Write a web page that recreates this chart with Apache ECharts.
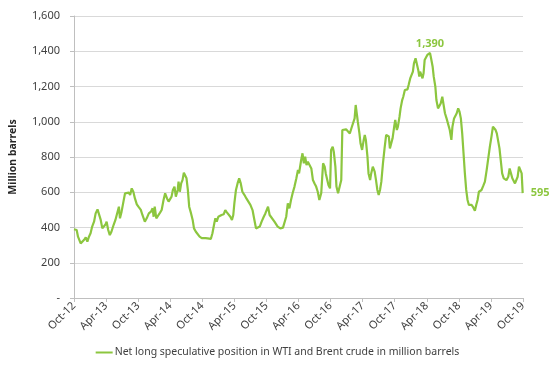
<!DOCTYPE html>
<html>
<head>
<meta charset="utf-8">
<script src="https://cdn.jsdelivr.net/npm/echarts@6/dist/echarts.min.js"></script>
<style>
html,body{margin:0;padding:0;background:#fff;}
#chart{width:555px;height:371px;}
</style>
</head>
<body>
<div id="chart"></div>
<script>
// Months elapsed since Oct-2012 (x position of each weekly reading)
var monthPos = [0,0.5,0.75,1.25,1.55,1.9,2.2,2.5,2.8,3.1,3.4,3.75,4.05,4.4,4.7,5.0,5.3,5.6,5.95,6.1,6.4,6.7,7.0,7.4,7.75,8.1,8.4,8.6,8.9,9.25,9.55,9.9,10.25,10.5,10.8,11.1,11.4,11.75,12.05,12.5,12.8,13.25,13.6,14.0,14.4,14.7,14.9,15.1,15.4,15.75,16.1,16.4,16.75,17.05,17.4,17.7,18.0,18.25,18.5,18.8,19.05,19.4,19.56,19.8,20.05,20.3,20.55,20.8,21.05,21.3,21.55,21.9,22.2,22.45,22.8,23.1,23.5,23.9,24.25,24.6,25.0,25.3,25.6,25.9,26.25,26.45,26.7,27.0,27.25,27.6,28.0,28.3,28.6,28.9,29.25,29.55,29.8,30.0,30.3,30.6,30.9,31.2,31.5,31.9,32.25,32.6,33.0,33.4,33.75,34.05,34.4,34.75,35.1,35.5,35.8,36.3,36.6,36.9,37.5,38.1,38.6,39.1,39.4,39.7,40.0,40.3,40.6,40.9,41.25,41.6,41.9,42.1,42.5,42.75,43.0,43.25,43.5,43.75,44.1,44.4,44.7,45.0,45.3,45.6,45.9,46.25,46.6,46.9,47.1,47.4,47.6,47.9,48.1,48.4,48.6,48.9,49.1,49.4,49.7,50.0,50.2,50.5,50.9,51.25,51.6,51.9,52.2,52.5,52.7,52.9,53.1,53.4,53.6,53.9,54.2,54.4,54.6,54.9,55.1,55.4,55.6,55.9,56.25,56.5,56.75,57.0,57.25,57.5,57.8,58.1,58.4,58.6,58.9,59.1,59.4,59.6,59.9,60.1,60.4,60.6,60.9,61.1,61.4,61.6,61.9,62.1,62.4,62.6,62.9,63.1,63.4,63.6,63.9,64.1,64.4,64.6,64.75,65.0,65.2,65.4,65.6,65.9,66.1,66.4,66.6,66.8,67.1,67.3,67.6,67.8,68.1,68.3,68.6,68.9,69.1,69.4,69.7,70.0,70.3,70.6,70.8,71.1,71.4,71.6,71.875,72.125,72.375,72.625,72.875,73.125,73.375,73.625,73.875,74.125,74.375,74.7,75.0,75.25,75.5,75.75,76.0,76.25,76.56,76.875,77.2,77.5,77.8,78.1,78.375,78.6,78.875,79.1,79.4,79.6,79.9,80.1,80.4,80.6,80.9,81.25,81.5,81.75,82.0,82.25,82.5,82.75,83.0,83.25,83.5,83.75,83.94];
// Net long speculative position, million barrels
var netLong = [390,386,348,310,302,330,344,320,348,367,405,433,480,503,500,443,395,386,420,433,386,357,376,414,443,452,518,452,490,547,594,590,598,584,622,603,565,531,518,500,471,433,452,480,490,509,461,518,452,461,484,499,556,594,565,547,556,575,613,632,575,613,660,603,650,669,711,717,679,613,518,480,443,395,376,367,348,340,338,340,338,344,335,367,424,452,433,461,471,471,475,499,486,480,461,443,471,537,613,650,679,650,603,584,565,556,528,499,443,395,386,405,433,461,480,518,471,480,433,405,395,399,405,461,537,509,556,594,632,679,726,707,783,821,764,802,754,773,764,735,669,650,632,603,556,594,764,745,707,717,641,622,840,859,830,745,632,594,584,669,953,963,957,953,934,963,972,1019,1095,1048,1000,934,878,840,897,925,897,802,707,669,707,745,717,669,613,584,613,660,764,849,925,934,916,849,859,906,972,1010,953,972,1029,1076,1123,1142,1180,1190,1184,1208,1246,1256,1284,1331,1360,1350,1294,1256,1284,1265,1246,1275,1350,1360,1379,1379,1390,1360,1312,1256,1199,1123,1076,1067,1104,1142,1151,1048,1019,1010,953,897,972,1019,1029,1048,1076,1057,1019,934,821,707,613,556,528,518,528,514,495,528,556,603,609,613,636,660,726,792,859,916,972,963,953,934,925,849,764,707,679,669,669,688,735,707,679,669,650,650,688,745,735,707,595];
// x tick labels every 6 months from Oct-12
var tickLabels = ['Oct-12','Apr-13','Oct-13','Apr-14','Oct-14','Apr-15','Oct-15','Apr-16','Oct-16','Apr-17','Oct-17','Apr-18','Oct-18','Apr-19','Oct-19'];
var seriesName = 'Net long speculative position in WTI and Brent crude in million barrels';

var green = '#8cc63f';
var peakIdx = netLong.indexOf(Math.max.apply(null, netLong));
var lastIdx = netLong.length - 1;
function fmt(p) { return p.value[1].toLocaleString('en-US'); }
var data = monthPos.map(function (m, i) {
  var item = { value: [m, netLong[i]] };
  if (i === peakIdx) {
    item.label = { show: true, position: 'top', distance: 4, formatter: fmt };
  } else if (i === lastIdx) {
    item.label = { show: true, position: 'right', distance: 8, formatter: fmt };
  }
  return item;
});

var chart = echarts.init(document.getElementById('chart'), null, { renderer: 'canvas' });
chart.setOption({
  animation: false,
  textStyle: { fontFamily: 'Noto Sans' },
  grid: { left: 73, right: 32, top: 16, bottom: 73 },
  legend: {
    show: true,
    bottom: 8,
    left: 'center',
    icon: 'rect',
    itemWidth: 17,
    itemHeight: 2,
    itemGap: 4,
    textStyle: { color: '#404040', fontSize: 10.5, fontFamily: 'Noto Sans', padding: [0, 0, 0, -3] },
    data: [seriesName]
  },
  xAxis: {
    type: 'value',
    min: 0,
    max: 84,
    interval: 6,
    axisLine: { show: true, lineStyle: { color: '#bfbfbf', width: 1 } },
    axisTick: { show: true, length: 4, lineStyle: { color: '#bfbfbf' } },
    splitLine: { show: false },
    axisLabel: {
      rotate: 45,
      color: '#404040',
      fontSize: 11,
      margin: 6,
      formatter: function (v) { return tickLabels[Math.round(v / 6)] || ''; }
    }
  },
  yAxis: {
    type: 'value',
    min: 0,
    max: 1600,
    interval: 200,
    name: 'Million barrels',
    nameLocation: 'middle',
    nameRotate: 90,
    nameGap: 55,
    nameTextStyle: { color: '#262626', fontSize: 10.5, fontWeight: 'bold' },
    axisLine: { show: true, lineStyle: { color: '#bfbfbf', width: 1 } },
    axisTick: { show: true, length: 4, lineStyle: { color: '#bfbfbf' } },
    splitLine: { show: true, lineStyle: { color: '#d9d9d9', width: 1 } },
    axisLabel: {
      color: '#404040',
      fontSize: 11,
      margin: 14,
      formatter: function (v) { return v === 0 ? '-' : v.toLocaleString('en-US'); }
    }
  },
  series: [{
    name: seriesName,
    type: 'line',
    data: data,
    showSymbol: true,
    showAllSymbol: true,
    symbol: 'circle',
    symbolSize: 0.01,
    lineStyle: { color: green, width: 2.2 },
    itemStyle: { color: green },
    label: { color: green, fontSize: 11, fontWeight: 'bold' },
    z: 3
  }]
});
</script>
</body>
</html>
